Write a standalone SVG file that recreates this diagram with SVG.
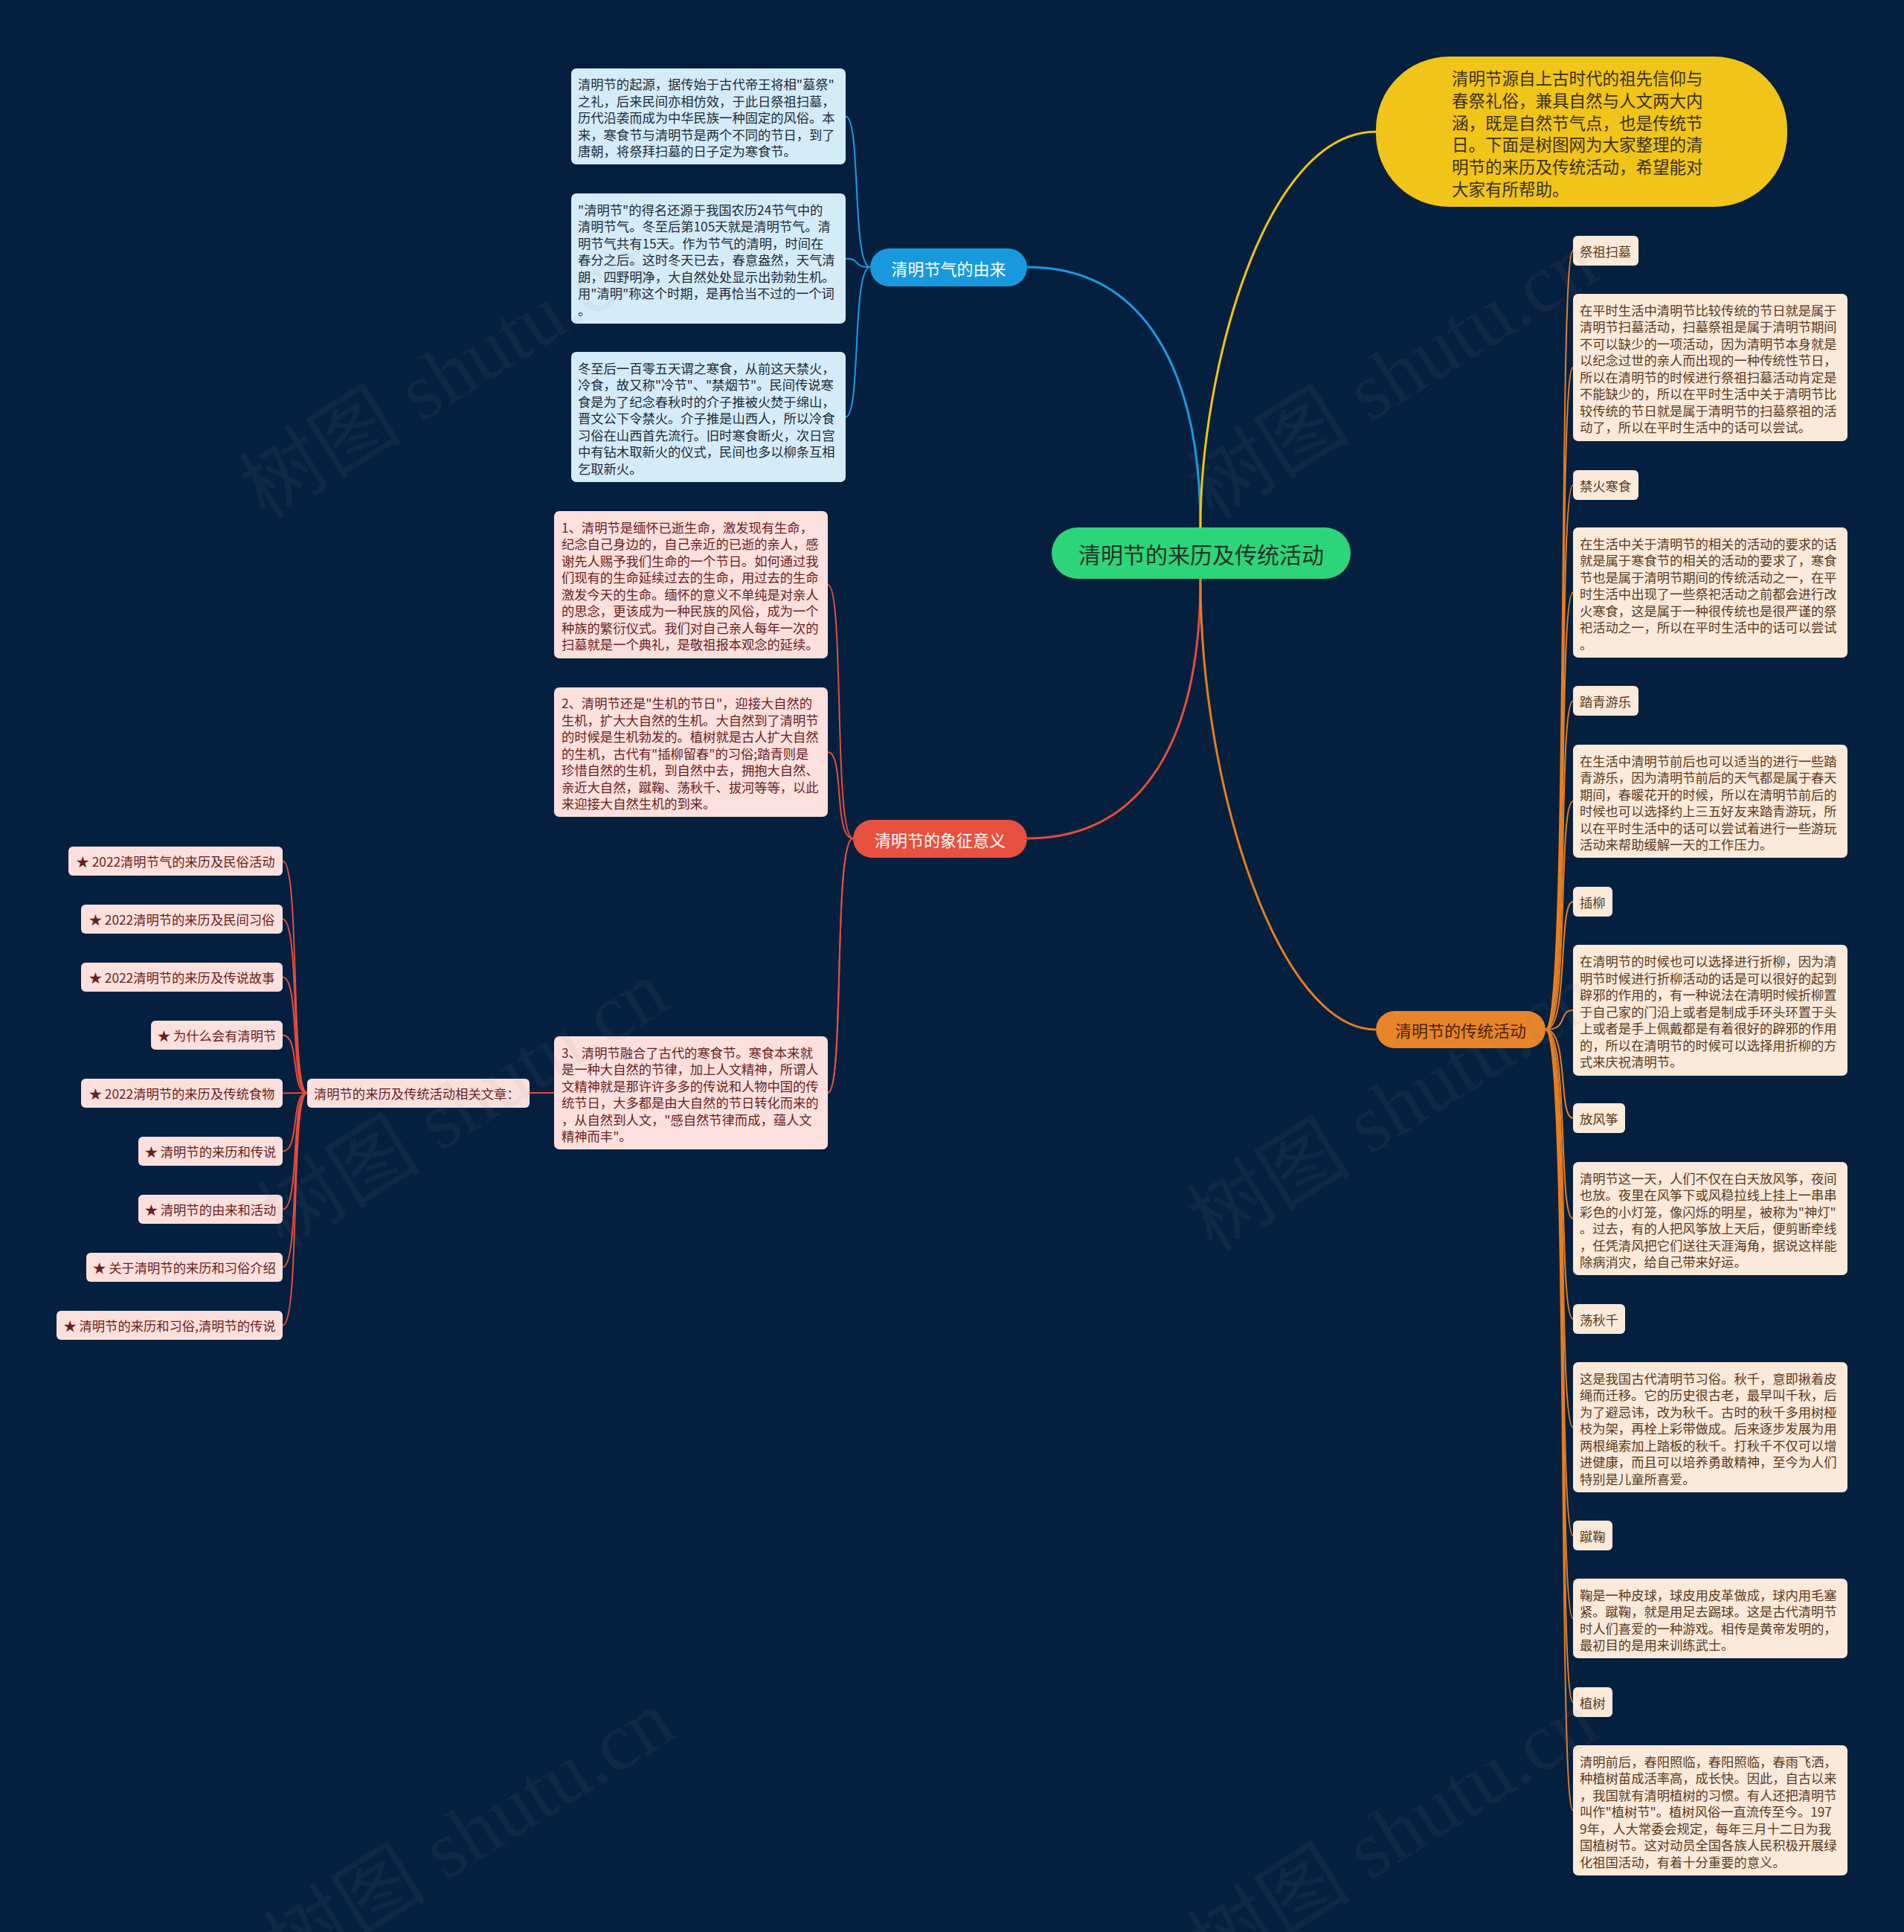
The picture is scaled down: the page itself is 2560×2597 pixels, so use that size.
<svg xmlns="http://www.w3.org/2000/svg" width="2560" height="2597" viewBox="0 0 2560 2597">
<style>
.bg{fill:#05203f}
.t{font-family:"Noto Sans CJK SC","Noto Sans",sans-serif;dominant-baseline:central}
.s17{font-size:17.3px}
.blue-box{fill:#d4ecf9}
.blue-txt{fill:#1d2b38}
.red-box{fill:#fbe0dd}
.red-txt{fill:#6b1e1e}
.cream-box{fill:#fbe9d9}
.cream-txt{fill:#5a3b1f}
.main{fill:none;stroke-width:3}
.sub{fill:none;stroke-width:2}
.cb{stroke:#1a9be0}
.cy{stroke:#f1c40f}
.cr{stroke:#e74c3c}
.co{stroke:#e67e22}
.wm{font-family:"Liberation Serif","Noto Sans CJK SC",serif;font-size:110px;fill:#8a8a8a;fill-opacity:0.08}
</style>
<rect class="bg" x="0" y="0" width="2560" height="2597"/>

<g id="connectors">
  <path class="main cb" d="M1614,709 C1614,500 1540,359 1381,359"/>
  <path class="main cy" d="M1614,709 C1614,500 1700,177 1850,177"/>
  <path class="main cr" d="M1614,778 C1614,990 1540,1127 1381,1127"/>
  <path class="main co" d="M1614,778 C1614,1060 1720,1384 1850,1384"/>

  <path class="sub cb" d="M1170,359 C1145,359 1158,156.5 1137,156.5"/>
  <path class="sub cb" d="M1170,359 C1145,359 1158,347.5 1137,347.5"/>
  <path class="sub cb" d="M1170,359 C1145,359 1158,560.5 1137,560.5"/>

  <path class="sub cr" d="M1147,1127 C1120,1127 1136,786 1113,786"/>
  <path class="sub cr" d="M1147,1127 C1120,1127 1136,1011 1113,1011"/>
  <path class="sub cr" d="M1147,1127 C1120,1127 1136,1469 1113,1469"/>
  <path class="sub cr" d="M1147,1127 C1120,1127 1136,1469 1113,1469 L712,1469"/>

  <path class="sub cr" d="M413,1469 C390,1469 404,1157.5 380,1157.5"/>
  <path class="sub cr" d="M413,1469 C390,1469 404,1235.5 380,1235.5"/>
  <path class="sub cr" d="M413,1469 C390,1469 404,1313.5 380,1313.5"/>
  <path class="sub cr" d="M413,1469 C390,1469 404,1391.5 380,1391.5"/>
  <path class="sub cr" d="M413,1469 L380,1469.5"/>
  <path class="sub cr" d="M413,1469 C390,1469 404,1547.5 380,1547.5"/>
  <path class="sub cr" d="M413,1469 C390,1469 404,1625.5 380,1625.5"/>
  <path class="sub cr" d="M413,1469 C390,1469 404,1703.5 380,1703.5"/>
  <path class="sub cr" d="M413,1469 C390,1469 404,1781.5 380,1781.5"/>

  <path class="sub co" d="M2078,1384 C2110,1384 2094,337 2115,337"/>
  <path class="sub co" d="M2078,1384 C2110,1384 2094,494 2115,494"/>
  <path class="sub co" d="M2078,1384 C2110,1384 2094,652 2115,652"/>
  <path class="sub co" d="M2078,1384 C2110,1384 2094,796.5 2115,796.5"/>
  <path class="sub co" d="M2078,1384 C2110,1384 2094,942 2115,942"/>
  <path class="sub co" d="M2078,1384 C2110,1384 2094,1077 2115,1077"/>
  <path class="sub co" d="M2078,1384 C2110,1384 2094,1212 2115,1212"/>
  <path class="sub co" d="M2078,1384 C2110,1384 2094,1358 2115,1358"/>
  <path class="sub co" d="M2078,1384 C2110,1384 2094,1503 2115,1503"/>
  <path class="sub co" d="M2078,1384 C2110,1384 2094,1638 2115,1638"/>
  <path class="sub co" d="M2078,1384 C2110,1384 2094,1773 2115,1773"/>
  <path class="sub co" d="M2078,1384 C2110,1384 2094,1918.5 2115,1918.5"/>
  <path class="sub co" d="M2078,1384 C2110,1384 2094,2064 2115,2064"/>
  <path class="sub co" d="M2078,1384 C2110,1384 2094,2175.5 2115,2175.5"/>
  <path class="sub co" d="M2078,1384 C2110,1384 2094,2288 2115,2288"/>
  <path class="sub co" d="M2078,1384 C2110,1384 2094,2433.5 2115,2433.5"/>
</g>

<g id="center">
  <rect x="1414" y="709" width="402" height="69" rx="34.5" fill="#2ed47a"/>
  <text class="t" x="1615" y="744" font-size="30" text-anchor="middle" fill="#1f3326">清明节的来历及传统活动</text>
</g>

<g id="intro">
  <rect x="1850" y="76" width="553" height="202" rx="98" fill="#f0c419"/>
  <g class="t" font-size="22.5" fill="#3a3120">
    <text x="1952" y="104">清明节源自上古时代的祖先信仰与</text>
    <text x="1952" y="133.8">春祭礼俗，兼具自然与人文两大内</text>
    <text x="1952" y="163.6">涵，既是自然节气点，也是传统节</text>
    <text x="1952" y="193.4">日。下面是树图网为大家整理的清</text>
    <text x="1952" y="223.2">明节的来历及传统活动，希望能对</text>
    <text x="1952" y="253">大家有所帮助。</text>
  </g>
</g>

<g id="branch-origin">
  <rect x="1170" y="334" width="211" height="51" rx="25.5" fill="#1899de"/>
  <text class="t" x="1275.5" y="359.5" font-size="22" text-anchor="middle" fill="#ffffff">清明节气的由来</text>
</g>

<g id="branch-meaning">
  <rect x="1147" y="1102" width="234" height="51" rx="25.5" fill="#e8503f"/>
  <text class="t" x="1264" y="1127.5" font-size="22" text-anchor="middle" fill="#ffffff">清明节的象征意义</text>
</g>

<g id="branch-activities">
  <rect x="1850" y="1359" width="228" height="50" rx="25" fill="#e8842a"/>
  <text class="t" x="1964" y="1384" font-size="22" text-anchor="middle" fill="#4a2508">清明节的传统活动</text>
</g>

<g id="origin-1">
  <rect class="blue-box" x="768" y="92" width="369" height="129" rx="7"/>
  <g class="t s17 blue-txt">
    <text x="777" y="112.5">清明节的起源，据传始于古代帝王将相"墓祭"</text>
    <text x="777" y="135">之礼，后来民间亦相仿效，于此日祭祖扫墓，</text>
    <text x="777" y="157.5">历代沿袭而成为中华民族一种固定的风俗。本</text>
    <text x="777" y="180">来，寒食节与清明节是两个不同的节日，到了</text>
    <text x="777" y="202.5">唐朝，将祭拜扫墓的日子定为寒食节。</text>
  </g>
</g>

<g id="origin-2">
  <rect class="blue-box" x="768" y="260" width="369" height="175" rx="7"/>
  <g class="t s17 blue-txt">
    <text x="777" y="281">"清明节"的得名还源于我国农历24节气中的</text>
    <text x="777" y="303.5">清明节气。冬至后第105天就是清明节气。清</text>
    <text x="777" y="326">明节气共有15天。作为节气的清明，时间在</text>
    <text x="777" y="348.5">春分之后。这时冬天已去，春意盎然，天气清</text>
    <text x="777" y="371">朗，四野明净，大自然处处显示出勃勃生机。</text>
    <text x="777" y="393.5">用"清明"称这个时期，是再恰当不过的一个词</text>
    <text x="777" y="416">。</text>
  </g>
</g>

<g id="origin-3">
  <rect class="blue-box" x="768" y="473" width="369" height="175" rx="7"/>
  <g class="t s17 blue-txt">
    <text x="777" y="494">冬至后一百零五天谓之寒食，从前这天禁火，</text>
    <text x="777" y="516.5">冷食，故又称"冷节"、"禁烟节"。民间传说寒</text>
    <text x="777" y="539">食是为了纪念春秋时的介子推被火焚于绵山，</text>
    <text x="777" y="561.5">晋文公下令禁火。介子推是山西人，所以冷食</text>
    <text x="777" y="584">习俗在山西首先流行。旧时寒食断火，次日宫</text>
    <text x="777" y="606.5">中有钻木取新火的仪式，民间也多以柳条互相</text>
    <text x="777" y="629">乞取新火。</text>
  </g>
</g>

<g id="meaning-1">
  <rect class="red-box" x="745" y="687" width="368" height="198" rx="7"/>
  <g class="t s17 red-txt">
    <text x="755" y="708">1、清明节是缅怀已逝生命，激发现有生命，</text>
    <text x="755" y="730.5">纪念自己身边的，自己亲近的已逝的亲人，感</text>
    <text x="755" y="753">谢先人赐予我们生命的一个节日。如何通过我</text>
    <text x="755" y="775.5">们现有的生命延续过去的生命，用过去的生命</text>
    <text x="755" y="798">激发今天的生命。缅怀的意义不单纯是对亲人</text>
    <text x="755" y="820.5">的思念，更该成为一种民族的风俗，成为一个</text>
    <text x="755" y="843">种族的繁衍仪式。我们对自己亲人每年一次的</text>
    <text x="755" y="865.5">扫墓就是一个典礼，是敬祖报本观念的延续。</text>
  </g>
</g>

<g id="meaning-2">
  <rect class="red-box" x="745" y="924" width="368" height="174" rx="7"/>
  <g class="t s17 red-txt">
    <text x="755" y="944.5">2、清明节还是"生机的节日"，迎接大自然的</text>
    <text x="755" y="967">生机，扩大大自然的生机。大自然到了清明节</text>
    <text x="755" y="989.5">的时候是生机勃发的。植树就是古人扩大自然</text>
    <text x="755" y="1012">的生机，古代有"插柳留春"的习俗;踏青则是</text>
    <text x="755" y="1034.5">珍惜自然的生机，到自然中去，拥抱大自然、</text>
    <text x="755" y="1057">亲近大自然，蹴鞠、荡秋千、拔河等等，以此</text>
    <text x="755" y="1079.5">来迎接大自然生机的到来。</text>
  </g>
</g>

<g id="meaning-3">
  <rect class="red-box" x="745" y="1393" width="368" height="152" rx="7"/>
  <g class="t s17 red-txt">
    <text x="755" y="1414">3、清明节融合了古代的寒食节。寒食本来就</text>
    <text x="755" y="1436.5">是一种大自然的节律，加上人文精神，所谓人</text>
    <text x="755" y="1459">文精神就是那许许多多的传说和人物中国的传</text>
    <text x="755" y="1481.5">统节日，大多都是由大自然的节日转化而来的</text>
    <text x="755" y="1504">，从自然到人文，"感自然节律而成，蕴人文</text>
    <text x="755" y="1526.5">精神而丰"。</text>
  </g>
</g>

<g id="related">
  <rect class="red-box" x="413" y="1450" width="299" height="39" rx="6"/>
  <text class="t s17 red-txt" x="422" y="1469.5">清明节的来历及传统活动相关文章：</text>
</g>

<g id="related-1"><rect class="red-box" x="92" y="1138" width="288" height="39" rx="6"/><text class="t s17 red-txt" x="236" y="1157.5" text-anchor="middle">★ 2022清明节气的来历及民俗活动</text></g>
<g id="related-2"><rect class="red-box" x="109" y="1216" width="271" height="39" rx="6"/><text class="t s17 red-txt" x="244.5" y="1235.5" text-anchor="middle">★ 2022清明节的来历及民间习俗</text></g>
<g id="related-3"><rect class="red-box" x="109" y="1294" width="271" height="39" rx="6"/><text class="t s17 red-txt" x="244.5" y="1313.5" text-anchor="middle">★ 2022清明节的来历及传说故事</text></g>
<g id="related-4"><rect class="red-box" x="203" y="1372" width="177" height="39" rx="6"/><text class="t s17 red-txt" x="291.5" y="1391.5" text-anchor="middle">★ 为什么会有清明节</text></g>
<g id="related-5"><rect class="red-box" x="109" y="1450" width="271" height="39" rx="6"/><text class="t s17 red-txt" x="244.5" y="1469.5" text-anchor="middle">★ 2022清明节的来历及传统食物</text></g>
<g id="related-6"><rect class="red-box" x="186" y="1528" width="194" height="39" rx="6"/><text class="t s17 red-txt" x="283" y="1547.5" text-anchor="middle">★ 清明节的来历和传说</text></g>
<g id="related-7"><rect class="red-box" x="186" y="1606" width="194" height="39" rx="6"/><text class="t s17 red-txt" x="283" y="1625.5" text-anchor="middle">★ 清明节的由来和活动</text></g>
<g id="related-8"><rect class="red-box" x="116" y="1684" width="264" height="39" rx="6"/><text class="t s17 red-txt" x="248" y="1703.5" text-anchor="middle">★ 关于清明节的来历和习俗介绍</text></g>
<g id="related-9"><rect class="red-box" x="76" y="1762" width="304" height="39" rx="6"/><text class="t s17 red-txt" x="228" y="1781.5" text-anchor="middle">★ 清明节的来历和习俗,清明节的传说</text></g>

<g id="act-label-1"><rect class="cream-box" x="2115" y="317" width="88" height="40" rx="6"/><text class="t s17 cream-txt" x="2124" y="337">祭祖扫墓</text></g>
<g id="act-text-1">
  <rect class="cream-box" x="2115" y="395" width="369" height="198" rx="7"/>
  <g class="t s17 cream-txt">
    <text x="2124" y="416">在平时生活中清明节比较传统的节日就是属于</text>
    <text x="2124" y="438.5">清明节扫墓活动，扫墓祭祖是属于清明节期间</text>
    <text x="2124" y="461">不可以缺少的一项活动，因为清明节本身就是</text>
    <text x="2124" y="483.5">以纪念过世的亲人而出现的一种传统性节日，</text>
    <text x="2124" y="506">所以在清明节的时候进行祭祖扫墓活动肯定是</text>
    <text x="2124" y="528.5">不能缺少的，所以在平时生活中关于清明节比</text>
    <text x="2124" y="551">较传统的节日就是属于清明节的扫墓祭祖的活</text>
    <text x="2124" y="573.5">动了，所以在平时生活中的话可以尝试。</text>
  </g>
</g>

<g id="act-label-2"><rect class="cream-box" x="2115" y="632" width="88" height="40" rx="6"/><text class="t s17 cream-txt" x="2124" y="652">禁火寒食</text></g>
<g id="act-text-2">
  <rect class="cream-box" x="2115" y="709" width="369" height="175" rx="7"/>
  <g class="t s17 cream-txt">
    <text x="2124" y="730">在生活中关于清明节的相关的活动的要求的话</text>
    <text x="2124" y="752.5">就是属于寒食节的相关的活动的要求了，寒食</text>
    <text x="2124" y="775">节也是属于清明节期间的传统活动之一，在平</text>
    <text x="2124" y="797.5">时生活中出现了一些祭祀活动之前都会进行改</text>
    <text x="2124" y="820">火寒食，这是属于一种很传统也是很严谨的祭</text>
    <text x="2124" y="842.5">祀活动之一，所以在平时生活中的话可以尝试</text>
    <text x="2124" y="865">。</text>
  </g>
</g>

<g id="act-label-3"><rect class="cream-box" x="2115" y="922" width="88" height="40" rx="6"/><text class="t s17 cream-txt" x="2124" y="942">踏青游乐</text></g>
<g id="act-text-3">
  <rect class="cream-box" x="2115" y="1001" width="369" height="152" rx="7"/>
  <g class="t s17 cream-txt">
    <text x="2124" y="1022">在生活中清明节前后也可以适当的进行一些踏</text>
    <text x="2124" y="1044.5">青游乐，因为清明节前后的天气都是属于春天</text>
    <text x="2124" y="1067">期间，春暖花开的时候，所以在清明节前后的</text>
    <text x="2124" y="1089.5">时候也可以选择约上三五好友来踏青游玩，所</text>
    <text x="2124" y="1112">以在平时生活中的话可以尝试着进行一些游玩</text>
    <text x="2124" y="1134.5">活动来帮助缓解一天的工作压力。</text>
  </g>
</g>

<g id="act-label-4"><rect class="cream-box" x="2115" y="1192" width="53" height="40" rx="6"/><text class="t s17 cream-txt" x="2124" y="1212">插柳</text></g>
<g id="act-text-4">
  <rect class="cream-box" x="2115" y="1270" width="369" height="176" rx="7"/>
  <g class="t s17 cream-txt">
    <text x="2124" y="1291.5">在清明节的时候也可以选择进行折柳，因为清</text>
    <text x="2124" y="1314">明节时候进行折柳活动的话是可以很好的起到</text>
    <text x="2124" y="1336.5">辟邪的作用的，有一种说法在清明时候折柳置</text>
    <text x="2124" y="1359">于自己家的门沿上或者是制成手环头环置于头</text>
    <text x="2124" y="1381.5">上或者是手上佩戴都是有着很好的辟邪的作用</text>
    <text x="2124" y="1404">的，所以在清明节的时候可以选择用折柳的方</text>
    <text x="2124" y="1426.5">式来庆祝清明节。</text>
  </g>
</g>

<g id="act-label-5"><rect class="cream-box" x="2115" y="1483" width="70" height="40" rx="6"/><text class="t s17 cream-txt" x="2124" y="1503">放风筝</text></g>
<g id="act-text-5">
  <rect class="cream-box" x="2115" y="1562" width="369" height="152" rx="7"/>
  <g class="t s17 cream-txt">
    <text x="2124" y="1583">清明节这一天，人们不仅在白天放风筝，夜间</text>
    <text x="2124" y="1605.5">也放。夜里在风筝下或风稳拉线上挂上一串串</text>
    <text x="2124" y="1628">彩色的小灯笼，像闪烁的明星，被称为"神灯"</text>
    <text x="2124" y="1650.5">。过去，有的人把风筝放上天后，便剪断牵线</text>
    <text x="2124" y="1673">，任凭清风把它们送往天涯海角，据说这样能</text>
    <text x="2124" y="1695.5">除病消灾，给自己带来好运。</text>
  </g>
</g>

<g id="act-label-6"><rect class="cream-box" x="2115" y="1753" width="70" height="40" rx="6"/><text class="t s17 cream-txt" x="2124" y="1773">荡秋千</text></g>
<g id="act-text-6">
  <rect class="cream-box" x="2115" y="1831" width="369" height="175" rx="7"/>
  <g class="t s17 cream-txt">
    <text x="2124" y="1852">这是我国古代清明节习俗。秋千，意即揪着皮</text>
    <text x="2124" y="1874.5">绳而迁移。它的历史很古老，最早叫千秋，后</text>
    <text x="2124" y="1897">为了避忌讳，改为秋千。古时的秋千多用树桠</text>
    <text x="2124" y="1919.5">枝为架，再栓上彩带做成。后来逐步发展为用</text>
    <text x="2124" y="1942">两根绳索加上踏板的秋千。打秋千不仅可以增</text>
    <text x="2124" y="1964.5">进健康，而且可以培养勇敢精神，至今为人们</text>
    <text x="2124" y="1987">特别是儿童所喜爱。</text>
  </g>
</g>

<g id="act-label-7"><rect class="cream-box" x="2115" y="2044" width="53" height="40" rx="6"/><text class="t s17 cream-txt" x="2124" y="2064">蹴鞠</text></g>
<g id="act-text-7">
  <rect class="cream-box" x="2115" y="2122" width="369" height="107" rx="7"/>
  <g class="t s17 cream-txt">
    <text x="2124" y="2143">鞠是一种皮球，球皮用皮革做成，球内用毛塞</text>
    <text x="2124" y="2165.5">紧。蹴鞠，就是用足去踢球。这是古代清明节</text>
    <text x="2124" y="2188">时人们喜爱的一种游戏。相传是黄帝发明的，</text>
    <text x="2124" y="2210.5">最初目的是用来训练武士。</text>
  </g>
</g>

<g id="act-label-8"><rect class="cream-box" x="2115" y="2268" width="53" height="40" rx="6"/><text class="t s17 cream-txt" x="2124" y="2288">植树</text></g>
<g id="act-text-8">
  <rect class="cream-box" x="2115" y="2346" width="369" height="175" rx="7"/>
  <g class="t s17 cream-txt">
    <text x="2124" y="2367">清明前后，春阳照临，春阳照临，春雨飞洒，</text>
    <text x="2124" y="2389.5">种植树苗成活率高，成长快。因此，自古以来</text>
    <text x="2124" y="2412">，我国就有清明植树的习惯。有人还把清明节</text>
    <text x="2124" y="2434.5">叫作"植树节"。植树风俗一直流传至今。197</text>
    <text x="2124" y="2457">9年，人大常委会规定，每年三月十二日为我</text>
    <text x="2124" y="2479.5">国植树节。这对动员全国各族人民积极开展绿</text>
    <text x="2124" y="2502">化祖国活动，有着十分重要的意义。</text>
  </g>
</g>

<g id="watermarks">
  <text class="wm" transform="translate(356,700) rotate(-32)">树图 shutu.cn</text>
  <text class="wm" transform="translate(1631,700) rotate(-32)">树图 shutu.cn</text>
  <text class="wm" transform="translate(381,1680) rotate(-32)">树图 shutu.cn</text>
  <text class="wm" transform="translate(1631,1684) rotate(-32)">树图 shutu.cn</text>
  <text class="wm" transform="translate(389,2660) rotate(-32)">树图 shutu.cn</text>
  <text class="wm" transform="translate(1631,2660) rotate(-32)">树图 shutu.cn</text>
</g>
</svg>
